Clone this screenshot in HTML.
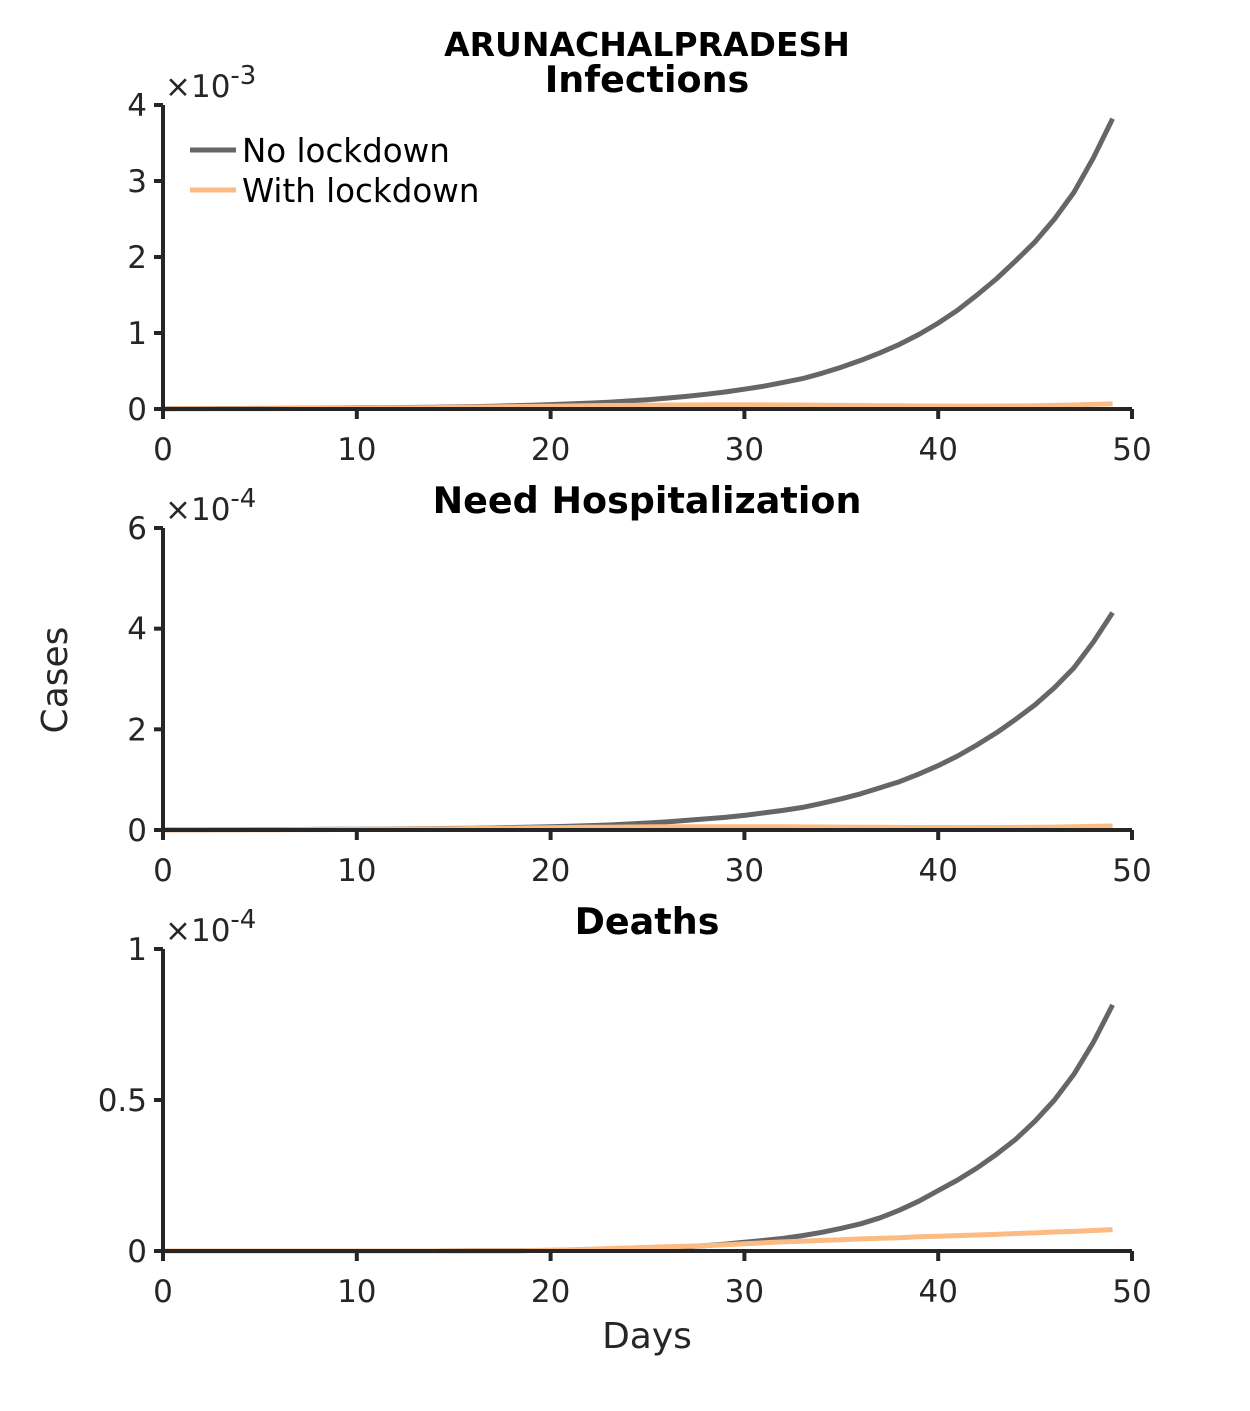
<!DOCTYPE html>
<html><head><meta charset="utf-8"><style>
body{margin:0;background:#fff;}
svg text{font-family:"DejaVu Sans","Liberation Sans",sans-serif;}
</style></head><body>
<svg id="chart" width="1250" height="1406" xmlns="http://www.w3.org/2000/svg">
<text x="647" y="56" font-size="33" font-weight="bold" text-anchor="middle" fill="#000">ARUNACHALPRADESH</text>
<text x="55" y="692" font-size="36" fill="#262626" text-anchor="middle" transform="rotate(-90 55 680)">Cases</text>
<text x="647" y="1348" font-size="36" fill="#262626" text-anchor="middle">Days</text>
<g id="plots"></g>
<g>
<line x1="190" y1="150" x2="236" y2="150" stroke="#666" stroke-width="5"/>
<text x="242" y="162" font-size="32.5" fill="#000">No lockdown</text>
<line x1="190" y1="190" x2="236" y2="190" stroke="#FDBB84" stroke-width="5"/>
<text x="242" y="202" font-size="32.5" fill="#000">With lockdown</text>
</g>
</svg>
<script>
const days = Array.from({length:50},(_, i)=>i);
const xTicks = [0,10,20,30,40,50];
const infNo = [0.004,0.005,0.005,0.006,0.007,0.008,0.008,0.009,0.011,0.012,0.014,0.016,0.018,0.021,0.024,0.028,0.032,0.037,0.043,0.050,0.058,0.067,0.077,0.090,0.105,0.123,0.143,0.166,0.193,0.224,0.26,0.30,0.35,0.40,0.47,0.55,0.64,0.74,0.85,0.98,1.13,1.30,1.50,1.71,1.95,2.20,2.50,2.85,3.30,3.82];
const infWith = [0.002,0.002,0.002,0.003,0.003,0.004,0.005,0.006,0.007,0.008,0.010,0.012,0.014,0.016,0.019,0.022,0.025,0.028,0.031,0.034,0.037,0.040,0.043,0.046,0.048,0.050,0.052,0.053,0.054,0.055,0.055,0.054,0.053,0.052,0.050,0.048,0.046,0.044,0.042,0.040,0.039,0.038,0.038,0.039,0.041,0.044,0.048,0.053,0.060,0.070];
const hospNo = [0.005,0.005,0.006,0.007,0.008,0.009,0.009,0.010,0.012,0.014,0.016,0.018,0.020,0.024,0.027,0.032,0.036,0.042,0.049,0.057,0.066,0.076,0.087,0.10,0.12,0.14,0.16,0.19,0.22,0.25,0.29,0.34,0.39,0.45,0.53,0.62,0.72,0.84,0.96,1.11,1.28,1.47,1.69,1.93,2.20,2.49,2.83,3.22,3.73,4.32];
const hospWith = [0.002,0.002,0.003,0.003,0.004,0.005,0.006,0.007,0.008,0.010,0.012,0.014,0.016,0.019,0.022,0.026,0.030,0.034,0.038,0.042,0.046,0.050,0.053,0.056,0.059,0.061,0.063,0.064,0.065,0.066,0.066,0.065,0.064,0.062,0.060,0.058,0.056,0.054,0.052,0.050,0.049,0.048,0.048,0.049,0.051,0.054,0.058,0.064,0.071,0.080];
const deathNo = [0,0,0,0,0,0,0,0,0,0,0,0,0,0,0,0.0003,0.0005,0.0008,0.001,0.0015,0.002,0.003,0.004,0.005,0.007,0.009,0.011,0.014,0.018,0.023,0.029,0.035,0.042,0.051,0.062,0.075,0.090,0.110,0.135,0.165,0.20,0.235,0.275,0.32,0.37,0.43,0.50,0.585,0.69,0.815];
const deathWith = [0,0,0,0,0,0,0,0,0,0,0,0,0,0,0,0.0003,0.0005,0.0008,0.001,0.0015,0.002,0.004,0.006,0.008,0.010,0.012,0.014,0.016,0.018,0.021,0.024,0.027,0.030,0.032,0.035,0.037,0.040,0.042,0.044,0.047,0.049,0.051,0.053,0.055,0.058,0.060,0.063,0.065,0.068,0.071];
const panels = [
 {name:'infections', title:'Infections', tTop:92, top:105, bot:409, ymax:4, ticks:[0,1,2,3,4], labels:['0','1','2','3','4'], exp:'-3', no:infNo, wi:infWith},
 {name:'hospitalization', title:'Need Hospitalization', tTop:513, top:528, bot:830, ymax:6, ticks:[0,2,4,6], labels:['0','2','4','6'], exp:'-4', no:hospNo, wi:hospWith},
 {name:'deaths', title:'Deaths', tTop:934, top:949, bot:1251, ymax:1, ticks:[0,0.5,1], labels:['0','0.5','1'], exp:'-4', no:deathNo, wi:deathWith}
];
const NS='http://www.w3.org/2000/svg';
const g=document.getElementById('plots');
const L=163,R=1132;
const xs=v=>L+(R-L)*v/50;
function mk(tag,attrs,parent){const e=document.createElementNS(NS,tag);for(const k in attrs)e.setAttribute(k,attrs[k]);parent.appendChild(e);return e;}
panels.forEach(p=>{
 const ys=v=>p.bot-(p.bot-p.top)*v/p.ymax;
 const pg=mk('g',{},g);
 
 
 const t=mk('text',{x:647,y:p.tTop,'font-size':36.5,'font-weight':'bold','text-anchor':'middle',fill:'#000'},pg);t.textContent=p.title;
 
 
 const ex=mk('text',{x:165,y:p.top-8,'font-size':31,fill:'#262626'},pg);
 ex.innerHTML='×10<tspan dy="-13" font-size="26">'+p.exp+'</tspan>';
 
 
 [['no','#666'],['wi','#FDBB84']].forEach(([k,c])=>{
  const d=p[k].map((v,i)=>(i?'L':'M')+xs(days[i]).toFixed(1)+','+ys(v).toFixed(1)).join('');
  const pa=mk('path',{d:d,fill:'none',stroke:c,'stroke-width':5,'stroke-linejoin':'round'},pg);
  
  
 });
 const ax=mk('path',{d:`M${L},${p.top}V${p.bot}H${R}`,fill:'none',stroke:'#262626','stroke-width':4},pg);
 
 
 p.ticks.forEach((v,i)=>{
  const y=ys(v);
  mk('line',{x1:L-9,x2:L,y1:y,y2:y,stroke:'#262626','stroke-width':4},pg);
  const tl=mk('text',{x:L-16,y:y+11,'font-size':31,fill:'#262626','text-anchor':'end'},pg);tl.textContent=p.labels[i];
  
  
 });
 xTicks.forEach(v=>{
  const x=xs(v);
  mk('line',{x1:x,x2:x,y1:p.bot,y2:p.bot+10,stroke:'#262626','stroke-width':4},pg);
  const tl=mk('text',{x:x,y:p.bot+51,'font-size':31,fill:'#262626','text-anchor':'middle'},pg);tl.textContent=v;
  
  
 });
});
</script>
</body></html>
